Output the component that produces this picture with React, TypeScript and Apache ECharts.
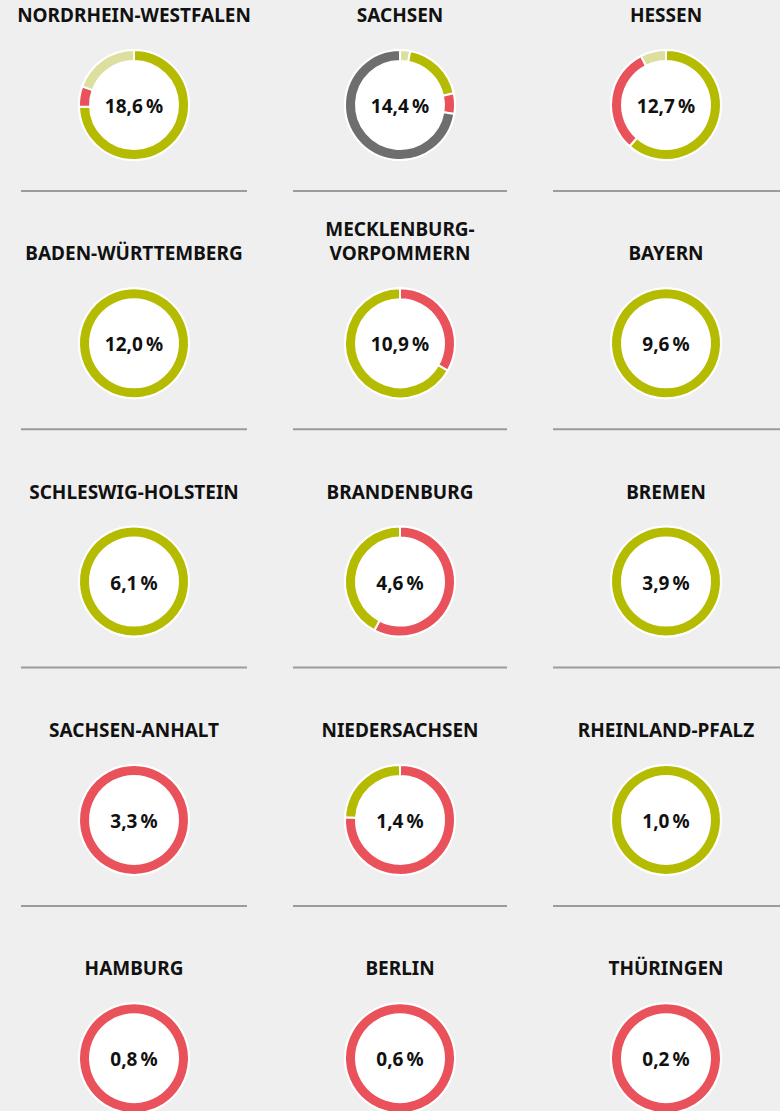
import React, { useEffect, useRef } from "react";
import * as echarts from "echarts";

const states = [
  "NORDRHEIN-WESTFALEN", "SACHSEN", "HESSEN",
  "BADEN-WÜRTTEMBERG", "MECKLENBURG-\nVORPOMMERN", "BAYERN",
  "SCHLESWIG-HOLSTEIN", "BRANDENBURG", "BREMEN",
  "SACHSEN-ANHALT", "NIEDERSACHSEN", "RHEINLAND-PFALZ",
  "HAMBURG", "BERLIN", "THÜRINGEN",
];
const shareLabels = [
  "18,6", "14,4", "12,7",
  "12,0", "10,9", "9,6",
  "6,1", "4,6", "3,9",
  "3,3", "1,4", "1,0",
  "0,8", "0,6", "0,2",
];
// ring segments, clockwise from 12 o'clock: [category, percent]
const rings: [string, number][][] = [
  [["green", 74.5], ["red", 6], ["light", 19.5]],
  [["light", 3], ["green", 18.6], ["red", 6], ["gray", 72.4]],
  [["green", 61.5], ["red", 31], ["light", 7.5]],
  [["green", 100]],
  [["red", 33.3], ["green", 66.7]],
  [["green", 100]],
  [["green", 100]],
  [["red", 57.7], ["green", 42.3]],
  [["green", 100]],
  [["red", 100]],
  [["red", 75.8], ["green", 24.2]],
  [["green", 100]],
  [["red", 100]],
  [["red", 100]],
  [["red", 100]],
];
const palette: Record<string, string> = {
  green: "#b4bb00",
  red: "#e9515b",
  light: "#dcdf9f",
  gray: "#6e6e6e",
};

const colX = [134, 400, 666];
const rowY0 = 105;
const rowStep = 238.3;
const lineSpans = [[21, 247], [293, 507], [553, 780]];
const FONT = "'Noto Sans', 'Open Sans', sans-serif";

export default function App() {
  const ref = useRef<HTMLDivElement>(null);
  useEffect(() => {
    const chart = echarts.init(ref.current!, undefined, { renderer: "svg" });
    const series: any[] = [];
    const graphic: any[] = [];
    states.forEach((name, i) => {
      const c = i % 3;
      const r = Math.floor(i / 3);
      const cx = colX[c];
      const cy = rowY0 + r * rowStep;
      graphic.push({
        type: "circle",
        z: 0,
        shape: { cx, cy, r: 56 },
        style: { fill: "#ffffff" },
      });
      const lines = name.split("\n");
      lines.forEach((ln, k) => {
        graphic.push({
          type: "text",
          z: 10,
          x: cx,
          y: cy - 90 - (lines.length - 1 - k) * 24,
          style: {
            text: ln,
            fill: "#111111",
            font: `bold 19px ${FONT}`,
            align: "center",
            verticalAlign: "middle",
          },
        });
      });
      graphic.push({
        type: "text",
        z: 10,
        x: cx,
        y: cy + 1,
        style: {
          text: shareLabels[i] + "\u202F%",
          fill: "#111111",
          font: `bold 19px ${FONT}`,
          align: "center",
          verticalAlign: "middle",
        },
      });
      if (r < 4) {
        graphic.push({
          type: "line",
          z: 1,
          shape: { x1: lineSpans[c][0], y1: cy + 86, x2: lineSpans[c][1], y2: cy + 86 },
          style: { stroke: "#9b9b9b", lineWidth: 2 },
        });
      }
      series.push({
        type: "pie",
        z: 5,
        center: [cx, cy],
        radius: [44, 55],
        startAngle: 90,
        clockwise: true,
        silent: true,
        label: { show: false },
        labelLine: { show: false },
        itemStyle: { borderColor: "#ffffff", borderWidth: 2 },
        data: rings[i].map(([k, v]) => ({
          name: k,
          value: v,
          itemStyle: { color: palette[k] },
        })),
      });
    });
    chart.setOption({
      animation: false,
      backgroundColor: "#efefef",
      series,
      graphic,
    });
    return () => chart.dispose();
  }, []);
  return (
    <div
      ref={ref}
      style={{ position: "absolute", left: 0, top: 0, width: 780, height: 1111 }}
    />
  );
}
